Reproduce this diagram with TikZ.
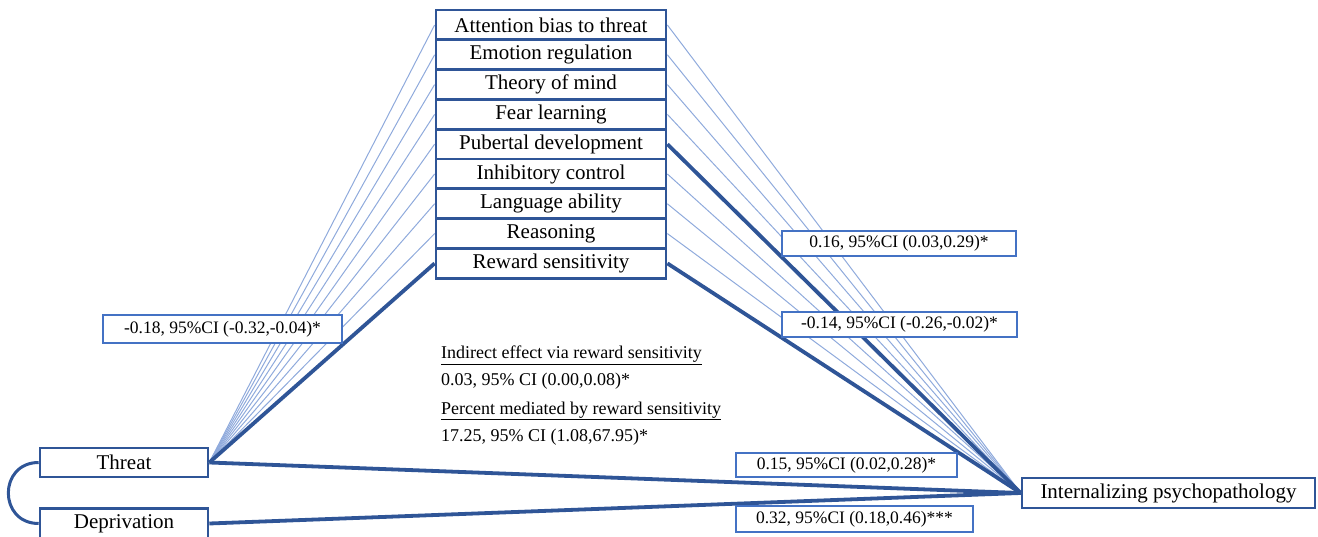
\documentclass[tikz,border=0pt]{standalone}
\usepackage{fontspec}
\setmainfont{Liberation Serif}
\definecolor{dblue}{HTML}{2F5597}
\definecolor{lblue}{HTML}{8FAADC}
\definecolor{mblue}{HTML}{4472C4}
\begin{document}
\begin{tikzpicture}[x=1pt,y=-1pt,
  medbox/.style={draw=dblue,line width=2.8pt,fill=white,minimum width=230pt,minimum height=29.8pt,inner sep=0pt,font=\fontsize{21}{24}\selectfont},
  varbox/.style={draw=dblue,line width=2.6pt,fill=white,inner sep=0pt,font=\fontsize{21}{24}\selectfont},
  labbox/.style={draw=mblue,line width=1.5pt,fill=white,inner sep=0pt,font=\fontsize{17.5}{20}\selectfont},
  weakpath/.style={draw=lblue,line width=1pt},
  strongpath/.style={draw=dblue,line width=3.8pt},
  notetext/.style={anchor=base west,inner sep=0pt,font=\fontsize{18}{20}\selectfont}]
\useasboundingbox (0,0) rectangle (1318,537);

% mediators
\node[medbox] (m1) at (551,25) {Attention bias to threat};
\node[medbox] (m2) at (551,54.8) {Emotion regulation};
\node[medbox] (m3) at (551,84.6) {Theory of mind};
\node[medbox] (m4) at (551,114.4) {Fear learning};
\node[medbox] (m5) at (551,144.2) {Pubertal development};
\node[medbox] (m6) at (551,174) {Inhibitory control};
\node[medbox] (m7) at (551,203.8) {Language ability};
\node[medbox] (m8) at (551,233.6) {Reasoning};
\node[medbox] (m9) at (551,263.4) {Reward sensitivity};

% exposures and outcome
\node[varbox,minimum width=168pt,minimum height=29pt] (thr) at (124,462.5) {Threat};
\node[varbox,minimum width=168pt,minimum height=30pt] (dep) at (124,523.5) {Deprivation};
\node[varbox,minimum width=293pt,minimum height=30pt] (int) at (1168.5,493) {Internalizing psychopathology};

% weak paths
\foreach \i in {1,...,8} \draw[weakpath] (thr.east) -- (m\i.west);
\foreach \i in {1,2,3,4,6,7,8} \draw[weakpath] (m\i.east) -- (int.west);

% strong paths
\draw[strongpath] (thr.east) -- (m9.west);
\draw[strongpath] (m9.east) -- (int.west);
\draw[strongpath] (m5.east) -- (int.west);
\draw[strongpath] (thr.east) -- (int.west);
\draw[strongpath] (dep.east) -- (int.west);
\draw[draw=dblue,line width=3pt] (thr.west) .. controls +(-40.5,0) and +(-40.5,0) .. (dep.west);

% path labels
\node[labbox,minimum width=239pt,minimum height=28pt] (l1) at (222.5,329) {-0.18, 95\%CI (-0.32,-0.04)*};
\node[labbox,minimum width=234pt,minimum height=25pt] (l2) at (899,243.5) {0.16, 95\%CI (0.03,0.29)*};
\node[labbox,minimum width=235pt,minimum height=25pt] (l3) at (899.5,324.5) {-0.14, 95\%CI (-0.26,-0.02)*};
\node[labbox,minimum width=221pt,minimum height=24pt] (l4) at (846.5,465) {0.15, 95\%CI (0.02,0.28)*};
\node[labbox,minimum width=237pt,minimum height=26pt] (l5) at (854.5,519) {0.32, 95\%CI (0.18,0.46)***};

% indirect effect text
\node[notetext] (n1) at (441,359) {\underline{Indirect effect via reward sensitivity}};
\node[notetext] (n2) at (441,386) {0.03, 95\% CI (0.00,0.08)*};
\node[notetext] (n3) at (441,414) {\underline{Percent mediated by reward sensitivity}};
\node[notetext] (n4) at (441,442) {17.25, 95\% CI (1.08,67.95)*};
\end{tikzpicture}
\end{document}
